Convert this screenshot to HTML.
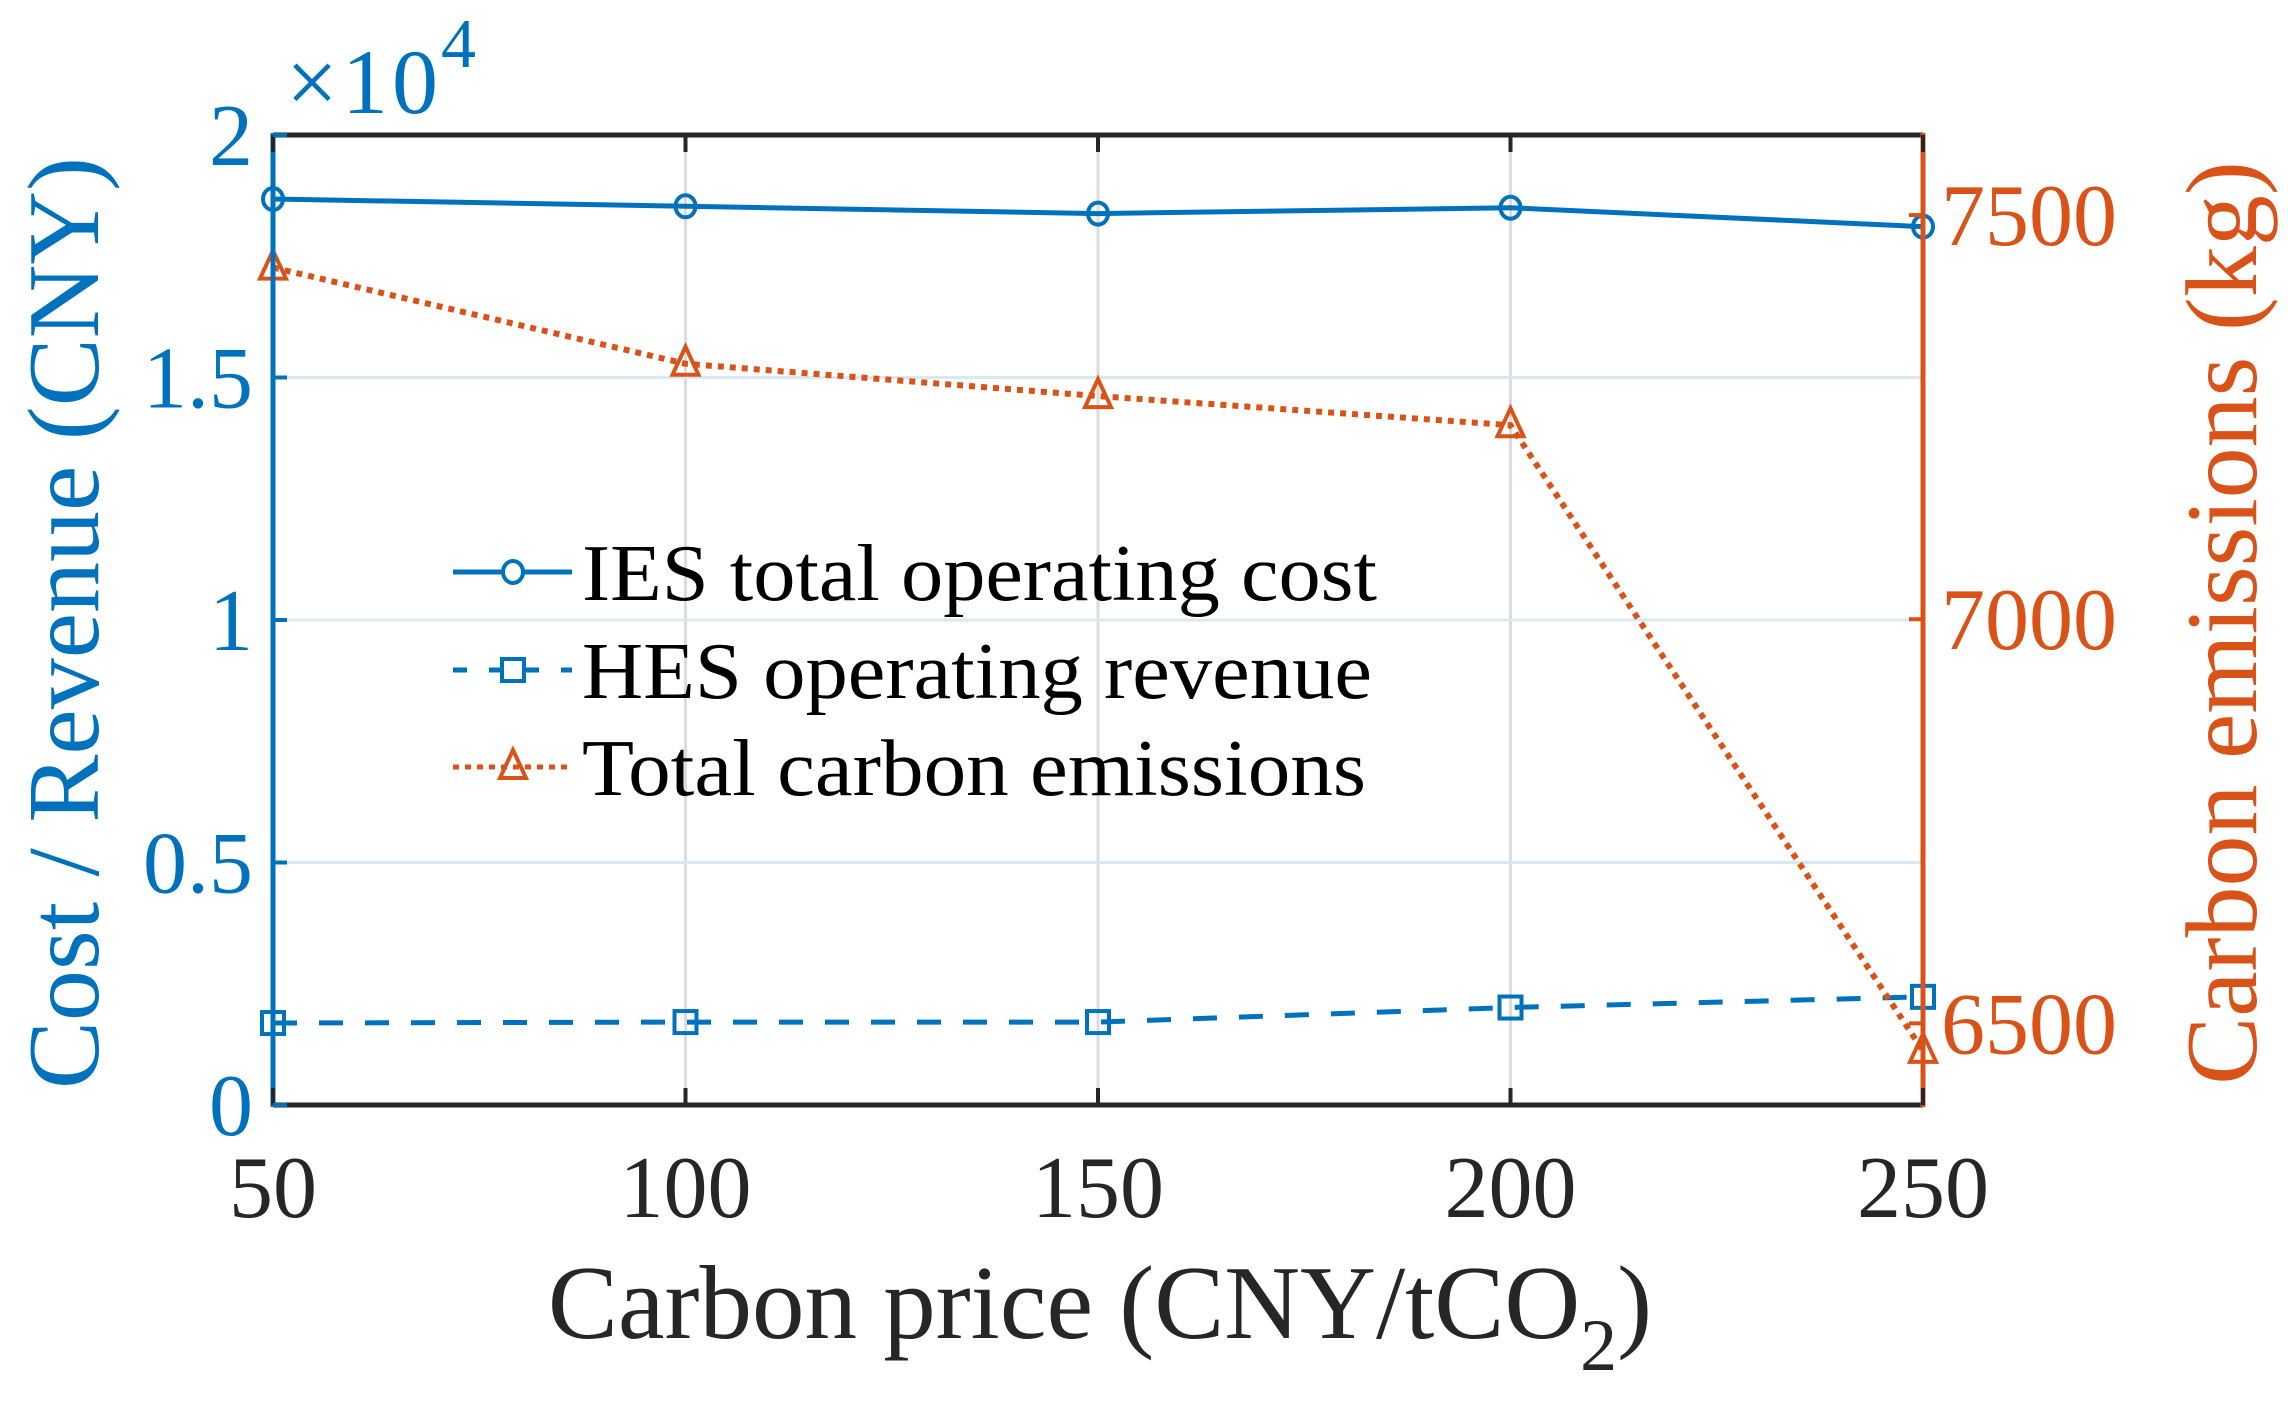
<!DOCTYPE html>
<html><head><meta charset="utf-8"><style>
html,body{margin:0;padding:0;background:#fff;}
svg{display:block;font-family:"Liberation Serif",serif;}
</style></head><body>
<svg id="chart" width="2288" height="1413" viewBox="0 0 2288 1413" xmlns="http://www.w3.org/2000/svg">
<g id="grid"></g>
<g id="series"></g>
<g id="axes"></g>
<g id="legend"></g>
</svg>
<script>
const categories = [50, 100, 150, 200, 250];
const iesCost = [18680, 18530, 18380, 18500, 18110];
const hesRevenue = [1690, 1710, 1710, 2010, 2230];
const carbonEmissions = [7435, 7316, 7276, 7240, 6466];
const xTicks = [50, 100, 150, 200, 250];
const yLeftTicks = [0, 0.5, 1, 1.5, 2];
const yLeftTickLabels = ["0", "0.5", "1", "1.5", "2"];
const yRightTicks = [6500, 7000, 7500];
const legendLabels = ["IES total operating cost", "HES operating revenue", "Total carbon emissions"];

const L=273, R=1923, T=135, B=1105;
const BLUE="#0072BD", ORANGE="#D95319";
const NS="http://www.w3.org/2000/svg";
function xS(v){return L+(v-50)/200*(R-L);}
function yL(v){return B-(v/20000)*(B-T);}
function yR(v){return B-(v-6399)/(7599-6399)*(B-T);}
function mk(parent,tag,attrs,text){const e=document.createElementNS(NS,tag);for(const k in attrs)e.setAttribute(k,attrs[k]);if(text!==undefined)e.textContent=text;parent.appendChild(e);return e;}
const grid=document.getElementById('grid'), series=document.getElementById('series'), axes=document.getElementById('axes'), legend=document.getElementById('legend');

xTicks.forEach(t=>{const g=mk(grid,'line',{x1:xS(t),x2:xS(t),y1:T,y2:B,stroke:'#dcdcdc','stroke-width':3});

});
yLeftTicks.forEach(t=>{const g=mk(grid,'line',{x1:L,x2:R,y1:yL(t*10000),y2:yL(t*10000),stroke:'#d9e8f2','stroke-width':3});

});

function path(vals,yf){return vals.map((v,i)=>(i?'L':'M')+xS(categories[i])+','+yf(v)).join(' ');}
const p1=mk(series,'path',{d:path(iesCost,yL),fill:'none',stroke:BLUE,'stroke-width':5});


const p2=mk(series,'path',{d:path(hesRevenue,yL),fill:'none',stroke:BLUE,'stroke-width':5,'stroke-dasharray':'24 22'});


const p3=mk(series,'path',{d:path(carbonEmissions,yR),fill:'none',stroke:ORANGE,'stroke-width':6,'stroke-dasharray':'6 6'});


function circ(x,y){return mk(series,'ellipse',{cx:x,cy:y,rx:10,ry:11,fill:'none',stroke:BLUE,'stroke-width':4});}
function sq(x,y){return mk(series,'rect',{x:x-11,y:y-11,width:22,height:22,fill:'none',stroke:BLUE,'stroke-width':4});}
function tri(x,y){return mk(series,'path',{d:`M${x},${y-17} L${x+13},${y+11} L${x-13},${y+11} Z`,fill:'none',stroke:ORANGE,'stroke-width':4});}
categories.forEach((c,i)=>{
 const a=circ(xS(c),yL(iesCost[i]));
 
 
 const b=sq(xS(c),yL(hesRevenue[i]));
 
 
 const d=tri(xS(c),yR(carbonEmissions[i]));
 
 
});

const ab=mk(axes,'path',{d:`M${L},${T} L${R},${T} M${L},${B} L${R},${B}`,stroke:'#262626','stroke-width':5,fill:'none'});


const la=mk(axes,'line',{x1:L,x2:L,y1:T-2,y2:B+2,stroke:BLUE,'stroke-width':5});


const ra=mk(axes,'line',{x1:R,x2:R,y1:T-2,y2:B+2,stroke:ORANGE,'stroke-width':5});


xTicks.forEach(t=>{
 mk(axes,'line',{x1:xS(t),x2:xS(t),y1:B,y2:B-17,stroke:'#262626','stroke-width':4});
 mk(axes,'line',{x1:xS(t),x2:xS(t),y1:T,y2:T+17,stroke:'#262626','stroke-width':4});
 const tx=mk(axes,'text',{x:xS(t),y:1217,'text-anchor':'middle','font-size':88,fill:'#262626'},String(t));
 
 
});
yLeftTicks.forEach((t,i)=>{
 const y=yL(t*10000);
 mk(axes,'line',{x1:L,x2:L+14,y1:y,y2:y,stroke:BLUE,'stroke-width':4});
 const tx=mk(axes,'text',{x:L-20,y:y+30,'text-anchor':'end','font-size':88,fill:BLUE},yLeftTickLabels[i]);
 
 
});
yRightTicks.forEach(t=>{
 const y=yR(t);
 mk(axes,'line',{x1:R,x2:R-14,y1:y,y2:y,stroke:ORANGE,'stroke-width':4});
 const tx=mk(axes,'text',{x:R+18,y:y+30,'text-anchor':'start','font-size':88,fill:ORANGE},String(t));
 
 
});
const ex=mk(axes,'text',{x:286,y:113,'font-size':92,fill:BLUE,textLength:152},'×10');


const ex4=mk(axes,'text',{x:441,y:67,'font-size':70,fill:BLUE},'4');



const xt=mk(axes,'text',{x:1100,y:1338,'text-anchor':'middle','font-size':105,fill:'#262626'});


xt.innerHTML='Carbon price (CNY/tCO<tspan font-size="74" dy="32">2</tspan><tspan dy="-32">)</tspan>';
const ylt=mk(axes,'text',{x:0,y:0,'text-anchor':'middle','font-size':102,fill:BLUE,transform:'translate(98,623) rotate(-90)'},'Cost / Revenue (CNY)');


const yrt=mk(axes,'text',{x:0,y:0,'text-anchor':'middle','font-size':102,fill:ORANGE,transform:'translate(2256,623) rotate(-90)'},'Carbon emissions (kg)');



const rows=[572,670,767];
const lens=[795,790,784];
const sty=[{c:BLUE,d:''},{c:BLUE,d:'14 22'},{c:ORANGE,d:'6 6'}];
legendLabels.forEach((lab,i)=>{
 const y=rows[i];
 const g=mk(legend,'g',{});
 
 
 const ln=mk(g,'line',{x1:453,x2:572,y1:y,y2:y,stroke:sty[i].c,'stroke-width':5});
 if(sty[i].d) ln.setAttribute('stroke-dasharray',sty[i].d);
 const cx=513;
 if(i===0) mk(g,'ellipse',{cx:cx,cy:y,rx:10,ry:11,fill:'#fff',stroke:BLUE,'stroke-width':4});
 if(i===1) mk(g,'rect',{x:cx-11,y:y-11,width:22,height:22,fill:'#fff',stroke:BLUE,'stroke-width':4});
 if(i===2) mk(g,'path',{d:`M${cx},${y-17} L${cx+13},${y+11} L${cx-13},${y+11} Z`,fill:'none',stroke:ORANGE,'stroke-width':4});
 const tx=mk(g,'text',{x:582,y:y+28,'font-size':80,fill:'#000',textLength:lens[i],lengthAdjust:'spacingAndGlyphs'},lab);
 
 
});
</script>
</body></html>
